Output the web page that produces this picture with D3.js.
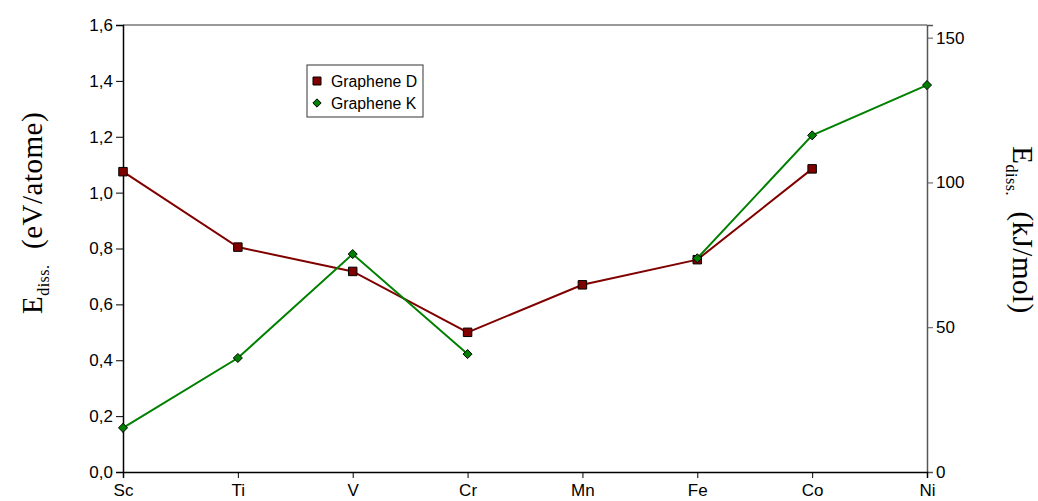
<!DOCTYPE html>
<html>
<head>
<meta charset="UTF-8">
<title></title>
<style>
  body { margin: 0; background: #fff; }
  text { font-family: "Liberation Sans", Arial, sans-serif; }
  .serif { font-family: "Liberation Serif", "Times New Roman", serif; }
</style>
</head>
<body>
<div id="chart"></div>
<script src="https://d3js.org/d3.v7.min.js"></script>
<script>
// data
var metals = ["Sc", "Ti", "V", "Cr", "Mn", "Fe", "Co", "Ni"];
var grapheneD = [1.075, 0.805, 0.718, 0.50, 0.67, 0.76, 1.085, null];
var grapheneK = [0.158, 0.408, 0.78, 0.422, null, 0.765, 1.205, 1.385];
var leftTicks = [0, 0.2, 0.4, 0.6, 0.8, 1.0, 1.2, 1.4, 1.6];
var rightTicks = [0, 50, 100, 150];

var width = 1038, height = 501;
var margin = { top: 25, right: 111, bottom: 29, left: 123 };

var svg = d3.select("#chart").append("svg")
  .attr("width", width).attr("height", height);

var x = d3.scalePoint().domain(metals)
  .range([margin.left, width - margin.right]);
var y = d3.scaleLinear().domain([0, 1.6])
  .range([height - margin.bottom, margin.top]);
// 1 eV/atome = 96.485 kJ/mol
var y2 = d3.scaleLinear().domain([0, 1.6 * 96.485])
  .range([height - margin.bottom, margin.top]);

var fmt = function(d) { return d3.format(".1f")(d).replace(".", ","); };

// top frame line
svg.append("line")
  .attr("x1", margin.left).attr("x2", width - margin.right)
  .attr("y1", margin.top).attr("y2", margin.top)
  .attr("stroke", "#777").attr("stroke-width", 1.5);

// left axis, minor ticks then major
var gl = svg.append("g").attr("transform", "translate(" + margin.left + ",0)");
gl.call(d3.axisLeft(y).tickValues(d3.range(0.1, 1.6, 0.2)).tickSize(7).tickFormat(""));
gl.call(d3.axisLeft(y).tickValues(leftTicks).tickSize(7).tickFormat(fmt));

// right axis
var gr = svg.append("g").attr("transform", "translate(" + (width - margin.right) + ",0)");
gr.call(d3.axisRight(y2).tickValues(d3.range(10, 155, 10)).tickSize(6).tickFormat(""));
gr.call(d3.axisRight(y2).tickValues(rightTicks).tickSize(6));

// bottom axis
var gb = svg.append("g").attr("transform", "translate(0," + (height - margin.bottom) + ")");
gb.call(d3.axisBottom(x).tickSize(6));

svg.selectAll(".domain").attr("stroke-width", 1.5);
gl.selectAll(".domain, .tick line").attr("stroke", "#000");
gr.selectAll(".domain, .tick line").attr("stroke", "#555");
svg.selectAll(".tick text")
  .attr("font-size", "17px")
  .attr("font-family", "'Liberation Sans', Arial, sans-serif")
  .attr("fill", "#000");
gb.selectAll(".tick text").attr("y", 12);

// series lines
var series = [
  { name: "Graphene D", values: grapheneD, color: "#800000", shape: "square" },
  { name: "Graphene K", values: grapheneK, color: "#008000", shape: "diamond" }
];

var line = d3.line()
  .defined(function(d) { return d.v !== null; })
  .x(function(d) { return x(d.m); })
  .y(function(d) { return y(d.v); });

series.forEach(function(s) {
  var pts = metals.map(function(m, i) { return { m: m, v: s.values[i] }; });
  svg.append("path")
    .datum(pts)
    .attr("fill", "none")
    .attr("stroke", s.color)
    .attr("stroke-width", 2)
    .attr("d", line);
  var sym = d3.symbol()
    .type(s.shape === "square" ? d3.symbolSquare : d3.symbolDiamond2)
    .size(s.shape === "square" ? 72 : 52);
  svg.selectAll(".pt-" + s.shape)
    .data(pts.filter(function(d) { return d.v !== null; }))
    .enter().append("path")
    .attr("class", "pt-" + s.shape)
    .attr("transform", function(d) { return "translate(" + x(d.m) + "," + y(d.v) + ")"; })
    .attr("d", sym)
    .attr("fill", s.color)
    .attr("stroke", "#000")
    .attr("stroke-width", 1);
});

// legend
var lg = svg.append("g").attr("transform", "translate(307,65)");
lg.append("rect")
  .attr("width", 116).attr("height", 52)
  .attr("fill", "#fff").attr("stroke", "#555").attr("stroke-width", 1.2);
series.forEach(function(s, i) {
  var yy = 16 + i * 22;
  lg.append("path")
    .attr("transform", "translate(10," + yy + ")")
    .attr("d", d3.symbol()
      .type(s.shape === "square" ? d3.symbolSquare : d3.symbolDiamond2)
      .size(s.shape === "square" ? 64 : 44))
    .attr("fill", s.color).attr("stroke", "#000").attr("stroke-width", 1);
  lg.append("text")
    .attr("x", 24).attr("y", yy + 6)
    .attr("font-size", "15.8px")
    .text(s.name);
});

// axis titles
var tl = svg.append("text")
  .attr("class", "serif")
  .attr("transform", "translate(42,213) rotate(-90)")
  .attr("text-anchor", "middle")
  .attr("font-size", "29px")
  .attr("letter-spacing", "0.5px");
tl.append("tspan").text("E");
tl.append("tspan").attr("font-size", "16px").attr("dy", 7).text("diss.");
tl.append("tspan").attr("dy", -7).text("\u00a0 (eV/atome)");

var tr = svg.append("text")
  .attr("class", "serif")
  .attr("transform", "translate(1013,230) rotate(90)")
  .attr("text-anchor", "middle")
  .attr("font-size", "29px")
  .attr("letter-spacing", "0.5px");
tr.append("tspan").text("E");
tr.append("tspan").attr("font-size", "16px").attr("dy", 7).text("diss.");
tr.append("tspan").attr("dy", -7).text("\u00a0 (kJ/mol)");
</script>
</body>
</html>
